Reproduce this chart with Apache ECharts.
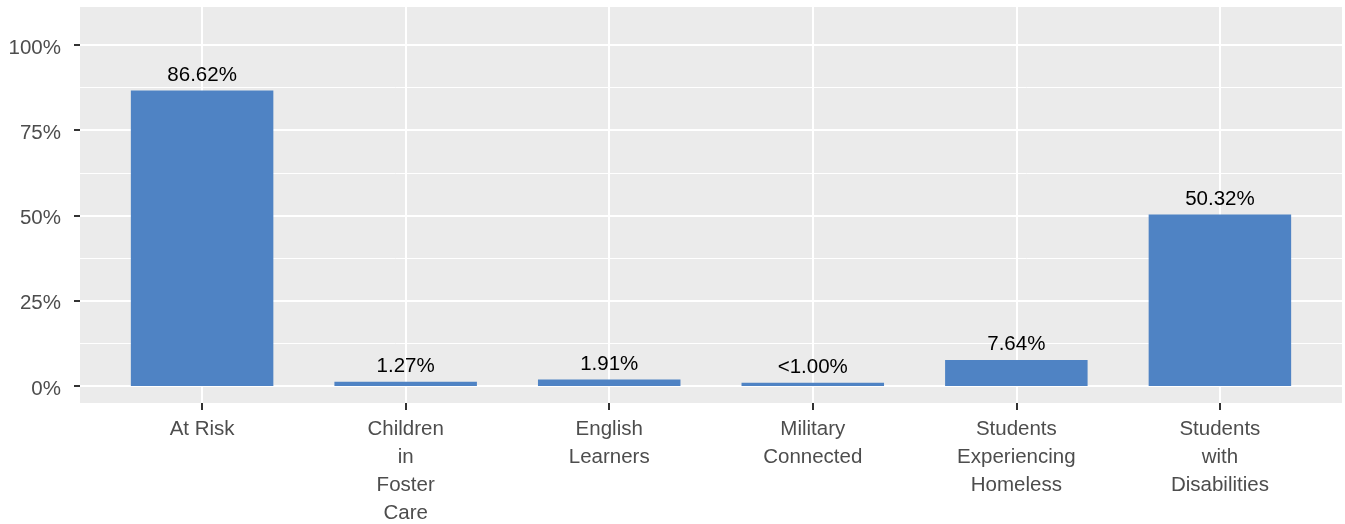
<!DOCTYPE html>
<html>
<head>
<meta charset="utf-8">
<script src="https://cdn.jsdelivr.net/npm/echarts@6/dist/echarts.min.js"></script>
<style>
html,body{margin:0;padding:0;background:#fff;}
#c{width:1345px;height:524px;}
</style>
</head>
<body>
<div id="c"></div>
<script>
const categories = ["At Risk", "Children\nin\nFoster\nCare", "English\nLearners", "Military\nConnected", "Students\nExperiencing\nHomeless", "Students\nwith\nDisabilities"];
const values = [86.62, 1.27, 1.91, 0.95, 7.64, 50.32];
const valueLabels = ["86.62%", "1.27%", "1.91%", "<1.00%", "7.64%", "50.32%"];
const yTicks = [0, 25, 50, 75, 100];

const FONT = "'Liberation Sans', Arial, sans-serif";
const FS = 20.5;
const yMin = -4.985, yMax = 111.14;

const chart = echarts.init(document.getElementById('c'), null, {renderer: 'canvas'});
chart.setOption({
  animation: false,
  backgroundColor: '#ffffff',
  textStyle: {fontFamily: FONT},
  grid: [
    {left: 80, right: 3, top: 7, bottom: 121, show: true, backgroundColor: '#EBEBEB', borderWidth: 0, containLabel: false, outerBoundsMode: 'none'},
    {left: 80, right: 3, top: 7, bottom: 138, show: false, containLabel: false, outerBoundsMode: 'none'},
    {left: 202.1, right: 125.1, top: 7, bottom: 121, show: false, containLabel: false, outerBoundsMode: 'none'}
  ],
  xAxis: [
    {gridIndex: 0, type: 'value', show: false, min: 0, max: 1},
    {gridIndex: 1, type: 'value', show: false, min: 0, max: 1},
    {gridIndex: 2, type: 'category', data: categories, boundaryGap: false,
      axisLine: {show: false, onZero: false},
      axisTick: {show: true, length: 7, lineStyle: {color: '#333333', width: 2}},
      axisLabel: {color: '#4D4D4D', fontSize: FS, fontFamily: FONT, margin: 12, lineHeight: 28, interval: 0, align: 'center'},
      splitLine: {show: true, lineStyle: {color: '#ffffff', width: 2}}
    }
  ],
  yAxis: [
    {gridIndex: 0, type: 'value', show: false, min: 0, max: 1},
    {gridIndex: 1, type: 'value', min: 0, max: yMax, interval: 25,
      axisLine: {show: false, onZero: false},
      axisTick: {show: true, length: 6, lineStyle: {color: '#333333', width: 2}},
      axisLabel: {color: '#4D4D4D', fontSize: FS, fontFamily: FONT, margin: 19, showMaxLabel: false,
        verticalAlign: 'top', lineHeight: 6,
        formatter: v => yTicks.includes(v) ? v + '%' : ''},
      splitLine: {show: true, showMaxLine: false, lineStyle: {color: '#ffffff', width: 2}},
      minorTick: {show: false, splitNumber: 2},
      minorSplitLine: {show: true, lineStyle: {color: '#ffffff', width: 1}}
    },
    {gridIndex: 2, type: 'value', show: false, min: yMin, max: yMax}
  ],
  series: [{
    type: 'bar',
    xAxisIndex: 2, yAxisIndex: 2,
    data: values,
    barWidth: 142.5,
    itemStyle: {color: '#4F83C4'},
    label: {show: true, position: 'top', distance: 5, color: '#000000', fontSize: FS, fontFamily: FONT,
      formatter: p => valueLabels[p.dataIndex]}
  }]
});
</script>
</body>
</html>
